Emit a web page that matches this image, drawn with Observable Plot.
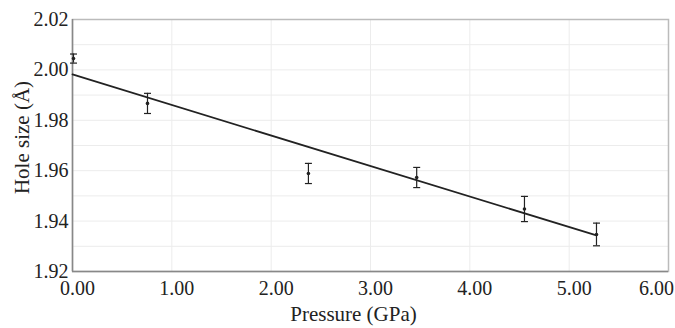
<!DOCTYPE html>
<html><head><meta charset="utf-8">
<script src="https://cdn.jsdelivr.net/npm/d3@7"></script>
<script src="https://cdn.jsdelivr.net/npm/@observablehq/plot@0.6"></script>
<style>
body{margin:0;background:#fff;}
svg{font-family:"Liberation Serif","Times New Roman",serif;}
</style>
</head><body><div id="chart"></div>
<script>
const pressure = [0.01, 0.755, 2.375, 3.465, 4.55, 5.275];
const holeSize = [2.0045, 1.9867, 1.9589, 1.9573, 1.9448, 1.9347];
const errors   = [0.0018, 0.0040, 0.0040, 0.0040, 0.0050, 0.0045];
const fitX = [0, 5.275];
const fitY = [1.9982, 1.9343];
const xTicks = [0, 1, 2, 3, 4, 5, 6];
const yTicks = [1.92, 1.94, 1.96, 1.98, 2.00, 2.02];
const yGrid = [1.92,1.93,1.94,1.95,1.96,1.97,1.98,1.99,2.00,2.01,2.02];
const xTitle = "Pressure (GPa)";
const yTitle = "Hole size (Å)";

const pts = pressure.map((p,i)=>({x:p, y:holeSize[i], lo:holeSize[i]-errors[i], hi:holeSize[i]+errors[i]}));
const fit = fitX.map((x,i)=>({x, y:fitY[i]}));
const caps = pts.flatMap(d=>[{x:d.x,y:d.lo},{x:d.x,y:d.hi}]);
const hbar = {draw(ctx, size){ const w = 3.5; ctx.moveTo(-w,0); ctx.lineTo(w,0);} };
const font = '"Liberation Serif","Times New Roman",serif';
const lastX = xTicks[xTicks.length-1];

const chart = Plot.plot({
  width: 675, height: 328,
  marginLeft: 72, marginRight: 7, marginTop: 19, marginBottom: 57,
  style: {fontFamily: font, color:"#222"},
  x: {domain:[0,6]},
  y: {domain:[1.92,2.02]},
  marks: [
    Plot.ruleY(yGrid, {stroke:"#ececec", strokeWidth:1}),
    Plot.ruleX(xTicks, {stroke:"#ececec", strokeWidth:1}),
    Plot.frame({stroke:"#bbb", strokeWidth:1.5}),
    Plot.ruleX([0], {stroke:"#888", strokeWidth:1.5}),
    Plot.ruleY([1.92], {stroke:"#888", strokeWidth:1.5}),
    Plot.axisX({ticks: xTicks.filter(t=>t!==lastX), tickFormat: d=>d.toFixed(2), tickSize: 0, tickPadding: 9, fontSize: 20, dx: 5, label: null}),
    Plot.axisX({ticks: [lastX], tickFormat: d=>d.toFixed(2), tickSize: 0, tickPadding: 9, fontSize: 20, dx: -12, label: null}),
    Plot.axisY({ticks: yTicks, tickFormat: d=>d.toFixed(2), tickSize: 0, tickPadding: 4, fontSize: 20, label: null}),
    Plot.text([xTitle], {frameAnchor:"bottom", text: d=>d, fontSize: 21, dx: -17, dy: 43, textAnchor:"middle", lineAnchor:"middle", fill:"#222"}),
    Plot.text([yTitle], {frameAnchor:"left", text: d=>d, fontSize: 21, rotate: -90, dx: -50, dy: -8, textAnchor:"middle", lineAnchor:"middle", fill:"#222"}),
    Plot.line(fit, {x:"x", y:"y", stroke:"#222", strokeWidth:1.8}),
    Plot.ruleX(pts, {x:"x", y1:"lo", y2:"hi", stroke:"#222", strokeWidth:1.2}),
    Plot.dot(caps, {x:"x", y:"y", symbol: hbar, stroke:"#222", strokeWidth:1.2, r:3}),
    Plot.dot(pts, {x:"x", y:"y", fill:"#222", r:1.8, stroke:null})
  ]
});
document.getElementById("chart").appendChild(chart);
</script></body></html>
